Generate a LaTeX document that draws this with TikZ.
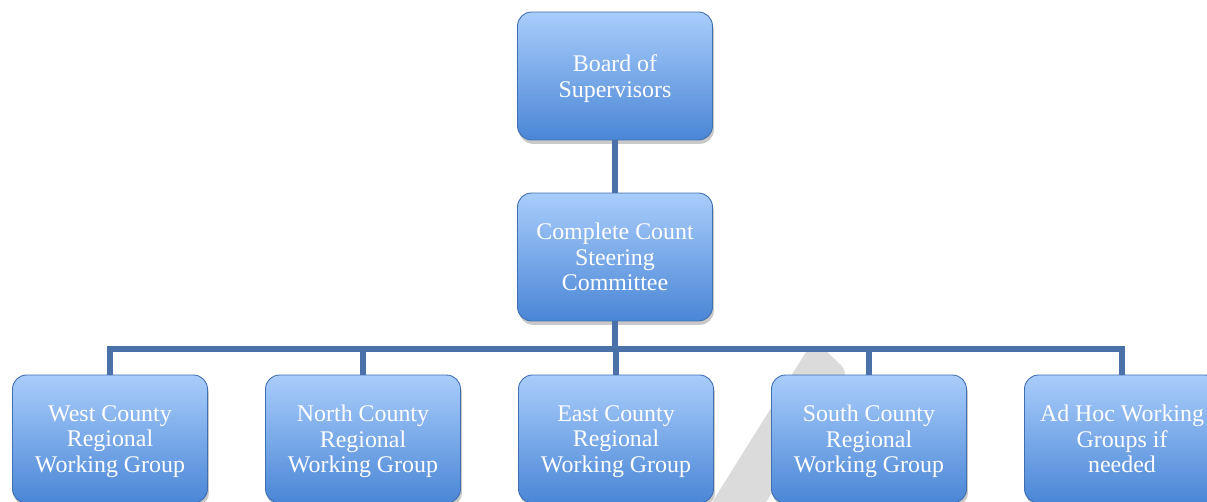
\documentclass[tikz,border=0pt]{standalone}
\usepackage{fontspec}
\setmainfont{Liberation Serif}
\usepackage{tikz}
\usetikzlibrary{positioning}
\usetikzlibrary{shadows}
\usepackage{xcolor}

\definecolor{boxtop}{HTML}{A9CDFB}
\definecolor{boxmid}{HTML}{88B6EE}
\definecolor{boxbot}{HTML}{4A86D6}
\definecolor{boxedge}{HTML}{3F6FB0}
\definecolor{linkblue}{HTML}{4A72A8}

\begin{document}
\begin{tikzpicture}[x=0.02cm, y=-0.02cm,
  orgbox/.style={rounded corners=0.28cm, minimum width=3.9cm, minimum height=2.56cm,
    top color=boxtop, middle color=boxmid, bottom color=boxbot, draw=boxedge, line width=0.5pt,
    drop shadow={shadow xshift=0.8pt, shadow yshift=-2.2pt, opacity=0.3, fill=black!70},
    text=white, align=center, inner sep=2pt, font=\fontsize{13.6}{14.5}\selectfont,
    text depth=-2.6pt},
  link/.style={linkblue, line width=2.9pt}]

\useasboundingbox (0,0) rectangle (1207,501);

% watermark stripe
\fill[black!14] (706,512)--(806,352)[rounded corners=5pt]--(818,343)--(848,372)[sharp corners]--(760,512)--cycle;

% boxes
\node[orgbox] (board) at (615,76) {Board of\\Supervisors};
\node[orgbox] (ccsc) at (615,257) {Complete Count\\Steering\\Committee};

\node[orgbox] (west) at (110,439) {West County\\Regional\\Working Group};
\node[orgbox] (north) at (363,439) {North County\\Regional\\Working Group};
\node[orgbox] (east) at (616,439) {East County\\Regional\\Working Group};
\node[orgbox] (south) at (869,439) {South County\\Regional\\Working Group};
\node[orgbox] (adhoc) at (1122,439) {Ad Hoc Working\\Groups if\\needed};

\coordinate (bus) at (615,349);

% connectors
\draw[link] (board.south) -- (ccsc.north);
\draw[link] (ccsc.south) -- (bus);
\foreach \unit in {west,north,east,south,adhoc}{
  \draw[link] (bus) -| (\unit.north);
}

\end{tikzpicture}
\end{document}
